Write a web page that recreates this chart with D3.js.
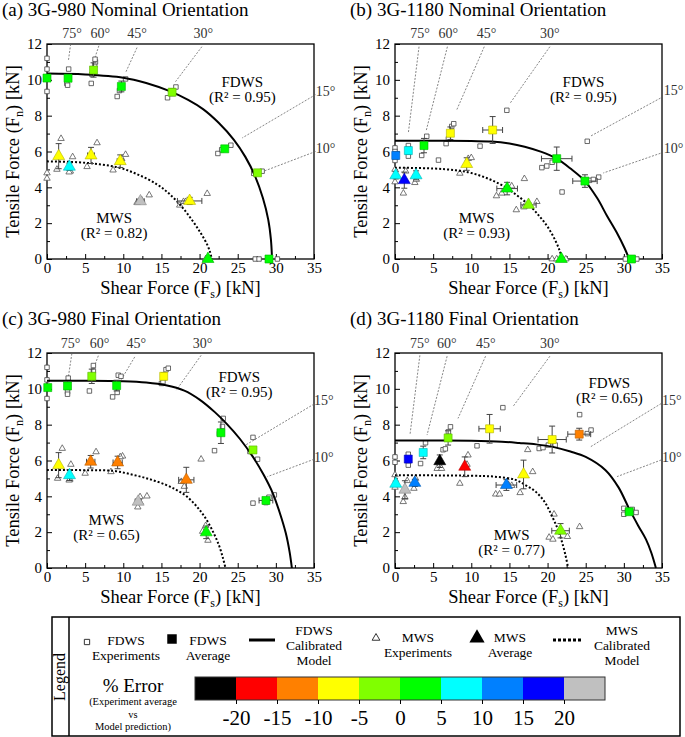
<!DOCTYPE html>
<html>
<head>
<meta charset="utf-8">
<script src="https://cdn.jsdelivr.net/npm/d3@7"></script>
<style>
  body { margin: 0; background: #fff; }
  svg text { font-family: "Liberation Serif", "DejaVu Serif", serif !important; }
</style>
</head>
<body>
<svg id="chart" width="685" height="737" font-family="Liberation Serif, DejaVu Serif, serif"></svg>
<script>
// ---- data (kN) ----
const xTicks = [0, 5, 10, 15, 20, 25, 30, 35];
const yTicks = [0, 2, 4, 6, 8, 10, 12];
const titles = ["(a) 3G-980 Nominal Orientation", "(b) 3G-1180 Nominal Orientation",
  "(c) 3G-980 Final Orientation", "(d) 3G-1180 Final Orientation"];
const fdwsR2 = ["0.95", "0.95", "0.95", "0.65"];
const mwsR2 = ["0.82", "0.93", "0.65", "0.77"];
const angleNames = ["75°", "60°", "45°", "30°", "15°", "10°"];

// model curves [Fs, Fn]
const aFdwsModel = [[0,10.35],[5,10.3],[10,10.12],[13,9.82],[16,9.38],[18.5,8.88],[20.5,8.35],[22.5,7.6],[24.5,6.65],[26,5.7],[27.3,4.6],[28.3,3.4],[29,2.2],[29.35,1.1],[29.5,0]];
const aMwsModel = [[0,5.45],[4,5.4],[7,5.28],[9.6,5.08],[12,4.7],[14.4,4.17],[16,3.65],[17.5,3.0],[18.8,2.3],[20.1,1.48],[21,0.8],[21.4,0.35],[21.6,0]];
const bFdwsModel = [[0,6.6],[5,6.6],[10,6.58],[12.6,6.56],[15,6.45],[17,6.27],[19.2,5.98],[21.2,5.6],[23,5.05],[24.9,4.35],[26.5,3.4],[27.8,2.4],[29.1,1.45],[30.1,0.6],[30.7,0]];
const bMwsModel = [[0,5.1],[5,5.05],[8,4.95],[10,4.8],[12,4.52],[14,4.12],[16,3.55],[17.7,2.96],[19,2.35],[20,1.8],[21,1.05],[21.6,0.45],[21.9,0]];
const cFdwsModel = [[0,10.45],[5,10.45],[10,10.42],[13,10.35],[15.6,10.2],[18,9.9],[20,9.4],[22,8.7],[23.5,8.07],[25.3,7.2],[27,6.2],[28.4,5.2],[29.6,4.17],[30.5,3.1],[31.3,1.95],[31.8,0.9],[32.1,0]];
const cMwsModel = [[0,5.47],[5,5.46],[8.7,5.42],[11.3,5.2],[13.5,4.95],[15.6,4.64],[17,4.35],[18.3,4.0],[19.7,3.4],[20.9,2.7],[21.9,1.9],[22.6,1.2],[23.1,0.5],[23.4,0]];
const dFdwsModel = [[0,7.12],[5,7.12],[10,7.1],[14,7.05],[16.3,6.98],[18.5,6.9],[20.7,6.76],[23,6.5],[25,6.2],[27.6,5.46],[29.3,4.5],[30.7,3.3],[31.9,2.35],[32.9,1.6],[33.6,0.85],[34.2,0]];
const dMwsModel = [[0,5.17],[5,5.17],[10,5.15],[13,5.1],[15.8,4.92],[17.2,4.6],[18.4,4.27],[19.6,3.7],[20.6,2.88],[21.3,2.2],[21.8,1.58],[22.3,0.8],[22.7,0]];

// experiments [Fs, Fn]
const aFdwsExp = [[0,11.2],[0,10.6],[0,9.35],[2.84,10.6],[2.6,9.8],[2.7,9.7],[5.9,10.3],[6.25,10.8],[6.35,11.0],[6.3,11.15],[5.8,9.8],[9.2,9.07],[9.5,9.4],[10.3,10.05],[15.8,9.0],[16.9,9.6],[22.4,5.89],[22.9,6.1],[24.1,6.35],[27.1,4.78],[28.2,4.9],[27.3,0],[27.8,0],[30.2,0]];
const aMwsExp = [[0,4.8],[0,4.5],[1.84,6.72],[1.3,5.0],[3.36,5.7],[3.06,4.9],[2.9,4.85],[5.25,5.15],[6.56,6.48],[8.66,4.96],[10.3,5.83],[9.8,5.6],[13.4,3.57],[11.8,3.15],[12.0,3.2],[12.4,3.3],[17.4,3.0],[17.9,3.2],[21.0,3.65],[18.2,3.2],[20.8,0],[21.3,0]];
const bFdwsExp = [[0,6.2],[0,6.0],[0,5.5],[1.75,6.33],[1.75,5.74],[3.5,5.78],[4.16,6.85],[6.7,6.44],[7.0,6.7],[7.44,7.4],[7.7,7.55],[5.7,5.52],[11.15,6.3],[14.66,8.3],[19.25,5.1],[19.9,5.19],[20.6,5.4],[21.9,3.74],[25.2,6.57],[25.5,4.39],[26.0,4.44],[26.7,4.57],[30.2,0],[30.8,0],[31.7,0]];
const bMwsExp = [[0,4.3],[0,5.0],[1.1,3.67],[1.4,4.9],[2.6,4.26],[2.8,4.44],[8.5,4.78],[9.6,5.6],[10.0,5.65],[13.3,3.52],[14.0,3.67],[15.3,4.07],[15.9,2.74],[16.96,4.48],[16.9,2.9],[18.6,3.2],[20.6,0],[21.2,0],[22.4,0]];
const cFdwsExp = [[0,11.2],[0,10.5],[0,9.46],[2.69,9.83],[2.69,9.7],[2.78,10.6],[6.08,11.3],[6.08,11.0],[5.56,9.88],[8.6,9.55],[9.2,9.8],[9.34,10.76],[9.7,10.7],[15.0,10.3],[15.2,10.4],[15.6,11.07],[15.9,11.15],[21.96,6.55],[23.1,8.35],[23.0,7.9],[22.6,7.5],[27.0,7.29],[26.6,6.5],[27.6,6.07],[27.0,3.62],[29.1,3.95],[29.8,4.08],[28.7,3.65]];
const cMwsExp = [[2.0,6.67],[1.39,5.0],[3.13,5.78],[3.0,4.95],[2.9,4.9],[5.0,5.28],[6.43,6.48],[8.38,5.37],[9.9,6.24],[9.6,6.2],[13.1,4.01],[12.2,3.97],[11.9,3.4],[12.2,3.68],[17.6,4.82],[18.0,4.55],[20.2,6.07],[20.8,2.36],[20.4,2.04],[21.1,1.54]];
const dFdwsExp = [[0,6.2],[0,5.9],[1.74,6.35],[1.74,5.74],[3.35,5.83],[4.0,6.99],[6.3,6.6],[6.6,6.65],[7.0,7.6],[7.27,7.88],[10.75,6.82],[14.14,8.95],[24.2,8.56],[25.2,7.5],[25.7,7.7],[18.9,6.67],[19.4,6.72],[20.1,6.86],[21.0,6.86],[30.0,3.33],[30.0,3.0],[31.1,3.27],[31.6,3.1]];
const dMwsExp = [[0,4.5],[0,5.2],[1.08,3.7],[1.3,3.95],[1.6,4.87],[2.48,4.44],[2.7,5.0],[5.53,5.55],[6.1,5.55],[8.5,4.72],[9.44,5.78],[9.57,6.3],[13.2,4.12],[13.7,4.12],[14.9,4.63],[15.3,4.6],[16.4,4.2],[17.4,6.6],[18.05,5.37],[20.85,3.0],[20.2,1.71],[20.7,1.6],[22.6,1.75],[24.2,2.3]];

// averages [Fs, Fn, half-width Fs error, half-height Fn error, % error]
const aFdwsAvg = [[0,10.1,0,0,2],[2.76,10.09,0,0.15,2],[6.1,10.55,0,0.4,-2],[9.75,9.63,0.15,0.3,2],[16.4,9.31,0.1,0.2,-2],[23.3,6.15,0.3,0.1,2],[27.6,4.81,0.3,0.05,-2],[29.1,0,0.3,0,2]];
const aMwsAvg = [[1.53,5.74,0,0.7,-7],[2.93,5.15,0.1,0.2,8],[5.77,5.78,0.45,0.45,-7],[9.6,5.46,0.4,0.35,-7],[12.25,3.22,0.5,0.1,25],[18.7,3.24,1.6,0.2,-7],[21.1,0,0.2,0,2]];
const bFdwsAvg = [[0.1,5.78,0,0.2,12],[1.75,6.05,0.2,0.2,8],[3.8,6.33,0,0.4,2],[7.26,7.02,0.3,0.35,-7],[12.8,7.2,1.3,0.75,-7],[21.2,5.6,2.0,0.65,2],[24.9,4.35,1.6,0.35,2],[31,0,0.3,0,2]];
const bMwsAvg = [[0.1,4.67,0,0.2,8],[1.22,4.4,0,0.45,17],[2.76,4.67,0,0.25,8],[9.4,5.3,0.2,0.35,-7],[14.7,3.93,1.35,0.35,2],[17.5,3.02,1.0,0.1,-2],[21.8,0,0.2,0,2]];
const cFdwsAvg = [[0.1,10.07,0,0.1,2],[2.69,10.16,0,0.2,2],[5.87,10.7,0,0.4,-2],[9.13,10.18,0,0.3,2],[15.3,10.7,0,0.2,-7],[22.8,7.55,0,0.6,2],[27.0,6.59,0.2,0.1,-2],[28.7,3.77,0.9,0.1,2]];
const cMwsAvg = [[1.52,5.74,0,0.7,-7],[2.95,5.18,0,0.3,8],[5.73,5.93,0.55,0.35,-12],[9.26,5.89,0.6,0.35,-12],[11.95,3.7,0.4,0.15,25],[18.26,4.92,1.0,0.7,-12],[20.87,1.99,0,0.35,2]];
const dFdwsAvg = [[1.74,6.08,0,0.15,17],[3.7,6.45,0,0.35,8],[6.96,7.26,0,0.4,-2],[12.4,7.77,1.4,0.8,-7],[20.6,7.17,1.85,0.75,-7],[24.15,7.47,1.5,0.33,-12],[30.7,3.14,0.5,0.1,2]];
const dMwsAvg = [[0.1,4.7,0,0.15,8],[1.3,4.37,0,0.5,25],[2.6,4.75,0,0.2,12],[5.87,5.96,0,0.35,-25],[9.14,5.65,0,0.55,-17],[14.6,4.63,1.35,0.3,12],[16.85,5.22,0,0.8,-7],[21.7,2.08,1.15,0.4,-2]];

// angle leaders per panel: [labelFs, labelFn, fromFs, fromFn, toFs, toFn]
const aLeaders = [[3.3,12.6,3.1,12.0,2.8,11.05],[7.0,12.6,6.8,11.9,6.1,11.0],[11.8,12.6,11.8,11.8,10.3,10.4],[20.5,12.6,20.3,11.85,16.85,9.9],[36.5,9.35,35.2,9.17,25.6,6.76],[36.5,6.2,35.2,6.0,27.8,4.8]];
const bLeaders = [[3.3,12.6,3.15,11.85,1.75,7.04],[7.0,12.6,6.87,11.85,4.07,7.13],[12.0,12.6,11.7,11.85,8.1,8.33],[20.3,12.6,20.3,11.85,15.1,8.7],[36.5,9.44,34.8,8.98,25.6,6.85],[36.5,6.2,34.8,5.9,27.3,4.8]];
const cLeaders = [[3.1,12.55,3.26,11.97,2.6,10.1],[6.9,12.55,6.73,11.85,5.9,10.9],[11.7,12.55,11.5,11.78,9.57,10.4],[20.4,12.55,20.2,11.87,16.96,9.93],[36.3,9.37,35,9.15,25.9,6.83],[36.3,6.2,35,6.07,28.9,5.1]];
const dLeaders = [[3.26,12.55,3.26,11.87,1.96,7.42],[6.8,12.55,6.83,11.82,4.2,7.42],[11.9,12.55,11.87,11.82,8.26,8.35],[20.3,12.55,20.3,11.82,15.5,9.03],[36.3,9.37,34.9,9.18,25.65,6.77],[36.3,6.2,34.9,6.03,29.1,5.1]];

// text positions [Fs, Fn] of the FDWS / MWS notes
const fdwsNote = [[25.6,9.9],[24.7,9.9],[25.2,10.66],[28.1,10.3]];
const mwsNote = [[8.8,2.3],[10.7,2.3],[7.8,2.69],[15.3,1.84]];

// legend colour scale
const errBreaks = [-20, -15, -10, -5, 0, 5, 10, 15, 20];
const errColors = ["#000000", "#ff0000", "#ff8000", "#ffff00", "#80ff00", "#00ff00", "#00ffff", "#0080ff", "#0000ff", "#c0c0c0"];

const FONT = "Liberation Serif, DejaVu Serif, serif";
const svg = d3.select("#chart");
const W = 267, H = 215;
const color = d3.scaleThreshold().domain(errBreaks).range(errColors);
const origins = [[47, 44], [395, 44], [47, 353], [395, 353]];
const panels = [
  { fm: aFdwsModel, mm: aMwsModel, fe: aFdwsExp, me: aMwsExp, fa: aFdwsAvg, ma: aMwsAvg, lead: aLeaders },
  { fm: bFdwsModel, mm: bMwsModel, fe: bFdwsExp, me: bMwsExp, fa: bFdwsAvg, ma: bMwsAvg, lead: bLeaders },
  { fm: cFdwsModel, mm: cMwsModel, fe: cFdwsExp, me: cMwsExp, fa: cFdwsAvg, ma: cMwsAvg, lead: cLeaders },
  { fm: dFdwsModel, mm: dMwsModel, fe: dFdwsExp, me: dMwsExp, fa: dFdwsAvg, ma: dMwsAvg, lead: dLeaders }
];

function drawPanel(p, i) {
  const [ox, oy] = origins[i];
  const x = d3.scaleLinear().domain([0, 35]).range([0, W]);
  const y = d3.scaleLinear().domain([0, 12]).range([H, 0]);
  const g = svg.append("g").attr("transform", `translate(${ox},${oy})`);

  svg.append("text")
    .attr("x", ox - 45).attr("y", oy - 28)
    .attr("font-size", 19)
    .text(titles[i]);

  // major + minor ticks, pointing inward
  g.append("g").attr("transform", `translate(0,${H})`)
    .call(d3.axisBottom(x).tickValues(d3.range(2.5, 35, 5)).tickSize(-3).tickFormat(""));
  g.append("g").attr("transform", `translate(0,${H})`)
    .call(d3.axisBottom(x).tickValues(xTicks).tickSize(-5).tickPadding(3))
    .attr("font-family", FONT).attr("font-size", 15);
  g.append("g")
    .call(d3.axisLeft(y).tickValues(d3.range(1, 12, 2)).tickSize(-3).tickFormat(""));
  g.append("g")
    .call(d3.axisLeft(y).tickValues(yTicks).tickSize(-5).tickPadding(5))
    .attr("font-family", FONT).attr("font-size", 15);
  g.selectAll(".domain").remove();
  g.selectAll(".tick line").attr("stroke", "#000");

  g.append("rect").attr("width", W).attr("height", H)
    .attr("fill", "none").attr("stroke", "#000").attr("stroke-width", 1.3);

  // axis titles
  const xl = g.append("text").attr("x", W / 2).attr("y", H + 35)
    .attr("text-anchor", "middle").attr("font-size", 18.5);
  xl.append("tspan").text("Shear Force (F");
  xl.append("tspan").attr("font-size", 12).attr("dy", 4).text("s");
  xl.append("tspan").attr("dy", -4).text(") [kN]");
  const yl = g.append("text").attr("transform", `translate(-28,${H / 2}) rotate(-90)`)
    .attr("text-anchor", "middle").attr("font-size", 18.5);
  yl.append("tspan").text("Tensile Force (F");
  yl.append("tspan").attr("font-size", 12).attr("dy", 4).text("n");
  yl.append("tspan").attr("dy", -4).text(") [kN]");

  // angle leaders
  g.selectAll(".lead").data(p.lead).join("line")
    .attr("x1", d => x(d[2])).attr("y1", d => y(d[3]))
    .attr("x2", d => x(d[4])).attr("y2", d => y(d[5]))
    .attr("stroke", "#666").attr("stroke-width", 0.8).attr("stroke-dasharray", "2,1.5");
  g.selectAll(".ang").data(p.lead).join("text")
    .attr("x", d => x(d[0])).attr("y", d => y(d[1]) + 5)
    .attr("text-anchor", "middle").attr("font-size", 14).attr("fill", "#333")
    .text((d, k) => angleNames[k]);

  // notes
  const fn = fdwsNote[i], mn = mwsNote[i];
  g.append("text").attr("x", x(fn[0])).attr("y", y(fn[1]) + 5).attr("text-anchor", "middle")
    .attr("font-size", 15).text("FDWS");
  g.append("text").attr("x", x(fn[0])).attr("y", y(fn[1]) + 20).attr("text-anchor", "middle")
    .attr("font-size", 15).text(`(R² = ${fdwsR2[i]})`);
  g.append("text").attr("x", x(mn[0])).attr("y", y(mn[1]) + 5).attr("text-anchor", "middle")
    .attr("font-size", 15).text("MWS");
  g.append("text").attr("x", x(mn[0])).attr("y", y(mn[1]) + 20).attr("text-anchor", "middle")
    .attr("font-size", 15).text(`(R² = ${mwsR2[i]})`);

  // experiments
  const sq = d3.symbol(d3.symbolSquare, 20);
  const tri = d3.symbol(d3.symbolTriangle, 18);
  g.selectAll(".fe").data(p.fe).join("path")
    .attr("d", sq).attr("transform", d => `translate(${x(d[0])},${y(d[1])})`)
    .attr("fill", "#fff").attr("stroke", "#444").attr("stroke-width", 0.8);
  g.selectAll(".me").data(p.me).join("path")
    .attr("d", tri).attr("transform", d => `translate(${x(d[0])},${y(d[1])})`)
    .attr("fill", "#fff").attr("stroke", "#555").attr("stroke-width", 0.8);

  // model curves
  const line = d3.line().x(d => x(d[0])).y(d => y(d[1])).curve(d3.curveCatmullRom.alpha(0.5));
  g.append("path").datum(p.fm).attr("d", line)
    .attr("fill", "none").attr("stroke", "#000").attr("stroke-width", 2);
  g.append("path").datum(p.mm).attr("d", line)
    .attr("fill", "none").attr("stroke", "#000").attr("stroke-width", 2).attr("stroke-dasharray", "2,2");

  // averages with error bars
  const avgs = p.fa.map(d => ({ d, s: "sq" })).concat(p.ma.map(d => ({ d, s: "tri" })));
  const eb = g.append("g").attr("stroke", "#444").attr("stroke-width", 1).attr("fill", "none");
  avgs.forEach(({ d }) => {
    const cx = x(d[0]), cy = y(d[1]);
    if (d[3] > 0) {
      const y1 = y(d[1] + d[3]), y2 = y(d[1] - d[3]);
      eb.append("path").attr("d", `M${cx},${y1}V${y2}M${cx - 3},${y1}H${cx + 3}M${cx - 3},${y2}H${cx + 3}`);
    }
    if (d[2] > 0) {
      const x1 = x(d[0] - d[2]), x2 = x(d[0] + d[2]);
      eb.append("path").attr("d", `M${x1},${cy}H${x2}M${x1},${cy - 3}V${cy + 3}M${x2},${cy - 3}V${cy + 3}`);
    }
  });
  g.selectAll(".avg").data(avgs).join("path")
    .attr("d", a => a.s === "sq" ? d3.symbol(d3.symbolSquare, 64)() : d3.symbol(d3.symbolTriangle, 62)())
    .attr("transform", a => `translate(${x(a.d[0])},${y(a.d[1])})`)
    .attr("fill", a => color(a.d[4]))
    .attr("stroke", a => d3.color(color(a.d[4])).darker(1))
    .attr("stroke-width", 0.6);
}

panels.forEach(drawPanel);

// ---- legend ----
const lg = svg.append("g");
lg.append("rect").attr("x", 52).attr("y", 617).attr("width", 628).attr("height", 119)
  .attr("fill", "none").attr("stroke", "#000").attr("stroke-width", 1.5);
lg.append("line").attr("x1", 69).attr("x2", 69).attr("y1", 617).attr("y2", 736)
  .attr("stroke", "#000").attr("stroke-width", 1.5);
lg.append("text").attr("transform", "translate(65,677) rotate(-90)")
  .attr("text-anchor", "middle").attr("font-size", 16).text("Legend");

const items = [
  { sym: "osq", sx: 87, tx: 126, lines: ["FDWS", "Experiments"], ty: 640 },
  { sym: "fsq", sx: 172, tx: 208, lines: ["FDWS", "Average"], ty: 640 },
  { sym: "line", sx: 262, tx: 314, lines: ["FDWS", "Calibrated", "Model"], ty: 630 },
  { sym: "otri", sx: 376, tx: 418, lines: ["MWS", "Experiments"], ty: 637 },
  { sym: "ftri", sx: 477, tx: 510, lines: ["MWS", "Average"], ty: 637 },
  { sym: "dot", sx: 567, tx: 622, lines: ["MWS", "Calibrated", "Model"], ty: 630 }
];
items.forEach(it => {
  const cy = 640;
  if (it.sym === "osq") lg.append("path").attr("d", d3.symbol(d3.symbolSquare, 28)).attr("transform", `translate(${it.sx},${cy + 2})`).attr("fill", "#fff").attr("stroke", "#333");
  if (it.sym === "fsq") lg.append("path").attr("d", d3.symbol(d3.symbolSquare, 90)).attr("transform", `translate(${it.sx},${cy - 1})`).attr("fill", "#000");
  if (it.sym === "otri") lg.append("path").attr("d", d3.symbol(d3.symbolTriangle, 26)).attr("transform", `translate(${it.sx},${cy - 2})`).attr("fill", "#fff").attr("stroke", "#333");
  if (it.sym === "ftri") lg.append("path").attr("d", d3.symbol(d3.symbolTriangle, 100)).attr("transform", `translate(${it.sx},${cy - 2})`).attr("fill", "#000");
  if (it.sym === "line") lg.append("line").attr("x1", it.sx - 13).attr("x2", it.sx + 13).attr("y1", cy).attr("y2", cy).attr("stroke", "#000").attr("stroke-width", 3);
  if (it.sym === "dot") lg.append("line").attr("x1", it.sx - 14).attr("x2", it.sx + 14).attr("y1", cy).attr("y2", cy).attr("stroke", "#000").attr("stroke-width", 3).attr("stroke-dasharray", "3,2");
  it.lines.forEach((t, k) => {
    lg.append("text").attr("x", it.tx).attr("y", it.ty + 5 + k * 15)
      .attr("text-anchor", "middle").attr("font-size", 13.5).text(t);
  });
});

lg.append("text").attr("x", 133).attr("y", 692).attr("text-anchor", "middle").attr("font-size", 19).text("% Error");
["(Experiment average", "vs", "Model prediction)"].forEach((t, k) => {
  lg.append("text").attr("x", 133).attr("y", 705 + k * 12.5).attr("text-anchor", "middle").attr("font-size", 10.5).text(t);
});

const cb = d3.scaleLinear().domain([-25, 25]).range([195, 605]);
const bins = d3.range(errColors.length).map(k => [-25 + k * 5, -20 + k * 5, errColors[k]]);
lg.selectAll(".bin").data(bins).join("rect")
  .attr("x", d => cb(d[0])).attr("y", 677)
  .attr("width", d => cb(d[1]) - cb(d[0])).attr("height", 23)
  .attr("fill", d => d[2]);
lg.append("rect").attr("x", cb(-25)).attr("y", 677).attr("width", cb(25) - cb(-25)).attr("height", 23)
  .attr("fill", "none").attr("stroke", "#333").attr("stroke-width", 1);
lg.append("g").attr("transform", "translate(0,700)")
  .call(d3.axisBottom(cb).tickValues(errBreaks).tickSize(4).tickPadding(6).tickFormat(d => String(d)))
  .attr("font-family", FONT).attr("font-size", 21)
  .call(s => s.select(".domain").remove());
</script>
</body>
</html>
